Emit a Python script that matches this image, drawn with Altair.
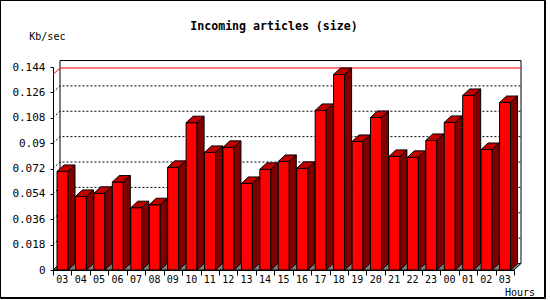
import altair as alt
import pandas as pd

# ---- data ----
hours = ["03", "04", "05", "06", "07", "08", "09", "10", "11", "12", "13", "14",
         "15", "16", "17", "18", "19", "20", "21", "22", "23", "00", "01", "02", "03"]
values = [0.0699, 0.0522, 0.0544, 0.0624, 0.0442, 0.0463, 0.0728, 0.1045, 0.0834,
          0.0870, 0.0614, 0.0714, 0.0770, 0.0721, 0.1132, 0.1387, 0.0912, 0.1082,
          0.0806, 0.0799, 0.0919, 0.1047, 0.1238, 0.0855, 0.1188]
y_ticks = [0, 0.018, 0.036, 0.054, 0.072, 0.09, 0.108, 0.126, 0.144]
title_text = "Incoming articles (size)"
y_title = "Kb/sec"
x_title = "Hours"

# ---- geometry (pixels) ----
W, H = 461, 203
N = len(values)
YMAX = y_ticks[-1]
BAR_OFF, BAR_W, DEPTH_X, DEPTH_Y = 4, 11, 7, 6.5
ux = N / W          # data units per px in x
uy = YMAX / H       # data units per px in y
dx = DEPTH_X * ux
dy = DEPTH_Y * uy
FONT = "DejaVu Sans Mono"

X = alt.X("x:Q", scale=alt.Scale(domain=[0, N], nice=False, zero=False),
          axis=alt.Axis(values=list(range(N + 1)), labels=False, tickSize=5, title=None,
                        grid=False, domainColor="black", tickColor="black"))
Y = alt.Y("y:Q", scale=alt.Scale(domain=[0, YMAX], nice=False, zero=True),
          axis=alt.Axis(values=y_ticks, format=".3~f", title=None, grid=False, tickSize=3,
                        labelPadding=5, labelFont=FONT, labelFontSize=11, labelColor="black",
                        domainColor="black", tickColor="black"))

# ---- tables ----
front_rows, side_rows, top_rows = [], [], []
for i, v in enumerate(values):
    l = i + BAR_OFF * ux
    r = l + BAR_W * ux
    front_rows.append({"bar": i, "x": l, "x2": r, "y": v, "y2": 0})
    side_rows += [{"bar": i, "x": r, "y": v, "y2": 0},
                  {"bar": i, "x": r + dx, "y": v + dy, "y2": dy}]
    top_rows += [{"bar": i, "x": l, "y": v, "y2": v},
                 {"bar": i, "x": l + dx, "y": v + dy, "y2": v},
                 {"bar": i, "x": r, "y": v + dy, "y2": v},
                 {"bar": i, "x": r + dx, "y": v + dy, "y2": v + dy}]
front_df = pd.DataFrame(front_rows)
side_df = pd.DataFrame(side_rows)
top_df = pd.DataFrame(top_rows)

back_df = pd.DataFrame([{"x": dx, "x2": N + dx, "y": dy, "y2": YMAX + dy}])
floor_df = pd.DataFrame([{"x": 0, "y": 0, "y2": 0}, {"x": dx, "y": dy, "y2": 0},
                         {"x": N, "y": dy, "y2": 0}, {"x": N + dx, "y": dy, "y2": dy}])
grid_rows = []
for k, t in enumerate(y_ticks[1:-1]):
    grid_rows += [{"g": k, "o": 0, "x": 0, "y": t}, {"g": k, "o": 1, "x": dx, "y": t + dy},
                  {"g": k, "o": 2, "x": N + dx, "y": t + dy}]
grid_df = pd.DataFrame(grid_rows)
vmax = max(values)
max_df = pd.DataFrame([{"o": 0, "x": 0, "y": vmax}, {"o": 1, "x": dx, "y": vmax + dy},
                       {"o": 2, "x": N + dx, "y": vmax + dy}])
lab_df = pd.DataFrame({"x": [i + 0.5 for i in range(N)], "h": hours})
one = pd.DataFrame({"a": [0]})

# ---- layers ----
back = alt.Chart(back_df).mark_rect(fill="white", stroke="black", strokeWidth=1).encode(
    x=X, x2="x2", y=Y, y2="y2")
floor = alt.Chart(floor_df).mark_area(color="#808080", stroke="black", strokeWidth=1).encode(
    x=X, y=Y, y2="y2")
grid = alt.Chart(grid_df).mark_line(color="black", strokeWidth=1, strokeDash=[2, 2]).encode(
    x=X, y=Y, detail="g:N", order="o:Q")
maxline = alt.Chart(max_df).mark_line(color="#ff0000", strokeWidth=1).encode(
    x=X, y=Y, order="o:Q")
front = alt.Chart(front_df).mark_rect(color="#ff0000", stroke="black", strokeWidth=1).encode(
    x=X, x2="x2", y=Y, y2="y2")
side = alt.Chart(side_df).mark_area(color="#800000", stroke="black", strokeWidth=1).encode(
    x=X, y=Y, y2="y2", detail="bar:N")
top = alt.Chart(top_df).mark_area(color="#c00000", stroke="black", strokeWidth=1).encode(
    x=X, y=Y, y2="y2", detail="bar:N")
xlabels = alt.Chart(lab_df).mark_text(font=FONT, fontSize=10, color="black",
                                      baseline="middle", align="center").encode(
    x=X, y=alt.value(213), text="h:N")
title = alt.Chart(one).mark_text(text=title_text, font=FONT, fontSize=11.6, fontWeight="bold",
                                 color="black", align="center", baseline="middle").encode(
    x=alt.value(221), y=alt.value(-40.3))
ytitle = alt.Chart(one).mark_text(text=y_title, font=FONT, fontSize=10, color="black",
                                  align="left", baseline="middle").encode(
    x=alt.value(-23.7), y=alt.value(-30.3))
xtitle = alt.Chart(one).mark_text(text=x_title, font=FONT, fontSize=10, color="black",
                                  align="left", baseline="middle").encode(
    x=alt.value(452), y=alt.value(225.7))
border = alt.Chart(one).mark_rect(filled=False, stroke="black", strokeWidth=1).encode(
    x=alt.value(-52.5), x2=alt.value(491.5), y=alt.value(-66.5), y2=alt.value(230.5))
border2 = alt.Chart(one).mark_rect(filled=False, stroke="black", strokeWidth=1).encode(
    x=alt.value(-52.5), x2=alt.value(492.5), y=alt.value(-66.5), y2=alt.value(231.5))

chart = alt.layer(back, floor, grid, maxline, front, side, top, xlabels, title, ytitle,
                  xtitle, border, border2).properties(
    width=W, height=H,
    autosize=alt.AutoSizeParams(type="none"),
    padding={"left": 53, "top": 67, "right": 550 - 53 - W, "bottom": 300 - 67 - H},
    background="white",
).configure_view(stroke=None)

chart.save("out.html", embed_options={"renderer": "svg", "actions": False})
